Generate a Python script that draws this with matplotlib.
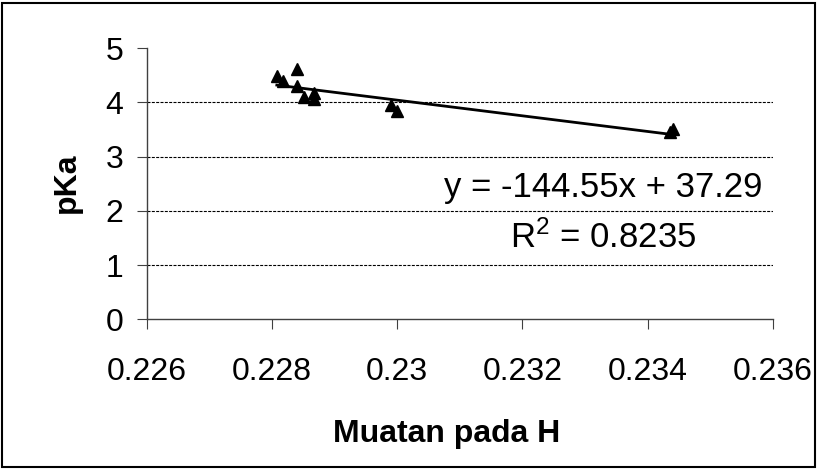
import matplotlib
matplotlib.use('Agg')
import matplotlib.pyplot as plt
from matplotlib.patches import Rectangle
import numpy as np

plt.rcParams['font.family'] = ['Liberation Sans', 'DejaVu Sans']

# muatan pada H vs pKa
muatan = [0.22808, 0.22818, 0.22840, 0.22840, 0.22852, 0.22867, 0.22867,
          0.22990, 0.23000, 0.23436, 0.23441]
pka = [4.48, 4.40, 4.62, 4.31, 4.11, 4.17, 4.06,
       3.95, 3.85, 3.45, 3.51]
slope = -144.55
intercept = 37.29
r2 = 0.8235

W, H = 818, 469
fig = plt.figure(figsize=(W/100, H/100), dpi=100)
ax = fig.add_axes([146.5/W, 1 - 319.3/H, (773-146.5)/W, (319.3-48.3)/H])

for yv in [1, 2, 3, 4]:
    ax.axhline(yv, color='black', lw=0.8, ls=(0, (2.7, 1.2)), zorder=1)

xl = np.array([min(muatan), max(muatan)])
ax.plot(xl, slope*xl + intercept, color='black', lw=2, zorder=2)
ax.plot(muatan, pka, linestyle='none', marker='^', color='black', ms=9, zorder=3)

ax.set_xlim(0.226, 0.236)
ax.set_ylim(0, 5)
ax.set_xticks([0.226, 0.228, 0.23, 0.232, 0.234, 0.236])
ax.set_xticklabels(['0.226', '0.228', '0.23', '0.232', '0.234', '0.236'])
ax.set_yticks([0, 1, 2, 3, 4, 5])
for s in ['top', 'right']:
    ax.spines[s].set_visible(False)
for s in ['left', 'bottom']:
    ax.spines[s].set_color('#404040')
    ax.spines[s].set_linewidth(1)
ax.tick_params(axis='both', labelsize=23, direction='out', length=7.2,
               color='#404040')
ax.tick_params(axis='x', pad=20)
ax.tick_params(axis='y', pad=9.5)

fig.text(447/W, 1 - 441.7/H, 'Muatan pada H', fontsize=23, fontweight='bold',
         ha='center', va='baseline')
fig.text(67/W, 1 - 183/H, 'pKa', fontsize=23, fontweight='bold',
         rotation=90, ha='center', va='center')

eq = 'y = %.2fx + %.2f' % (slope, intercept)
ax.text(0.23329, 2.256, eq, fontsize=25, ha='center', va='baseline')
ax.text(0.23329, 1.315, '$\\mathregular{R^2}$ = %.4f' % r2, fontsize=25,
        ha='center', va='baseline')

fig.patches.append(Rectangle((2/W, 2/H), 813/W, 464/H, transform=fig.transFigure,
                             fill=False, edgecolor='black', lw=1.5))

fig.savefig('out.png', dpi=100)
